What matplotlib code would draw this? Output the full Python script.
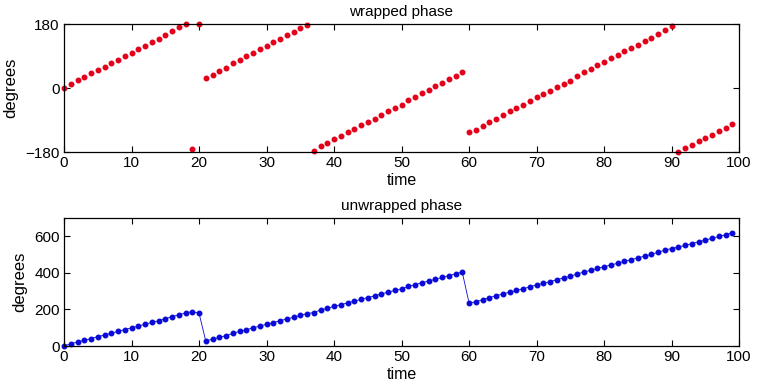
import numpy as np
import matplotlib.pyplot as plt

plt.rcParams['font.family'] = ['Liberation Sans', 'DejaVu Sans']

# time samples
t = np.arange(100)

# wrapped phase in degrees
wrapped = [0, 12, 22, 31, 41, 51, 60, 70, 80, 90,
           99, 109, 119, 129, 138, 150, 160, 171, 180, -172,
           180, 28, 37, 47, 57, 69, 80, 89, 99, 109,
           119, 128, 138, 148, 157, 168, 177, -177, -163, -154,
           -143, -134, -124, -115, -105, -95, -86, -75, -66, -56,
           -47, -34, -25, -14, -5, 5, 15, 25, 35, 44,
           -124, -119, -107, -95, -86, -75, -66, -56, -47, -37,
           -26, -17, -8, 3, 12, 21, 34, 44, 54, 64,
           73, 83, 92, 103, 112, 122, 131, 141, 153, 164,
           173, -179, -170, -160, -150, -141, -131, -121, -112, -101]

unwrapped = np.unwrap(np.array(wrapped, dtype=float), period=360)

fig = plt.figure(figsize=(7.57, 3.9), dpi=100)
W, H = 757, 390
ax1 = fig.add_axes([64 / W, 1 - 152 / H, (739 - 64) / W, (152 - 24) / H])
ax2 = fig.add_axes([64 / W, 1 - 346 / H, (739 - 64) / W, (346 - 218) / H])

ax1.plot(t, wrapped, '.', color='#e5001a', markersize=6.5, clip_on=False)
ax1.set_xlim(0, 100)
ax1.set_ylim(-180, 180)
ax1.set_yticks([-180, 0, 180])
ax1.set_title('wrapped phase', fontsize=11, pad=6)
ax1.set_xlabel('time', fontsize=11.5, labelpad=2)
ax1.set_ylabel('degrees', fontsize=12, labelpad=5)

ax2.plot(t, unwrapped, '.-', color='#0a0ad8', markersize=6.5, linewidth=0.6, clip_on=False)
ax2.set_xlim(0, 100)
ax2.set_ylim(0, 700)
ax2.set_yticks([0, 200, 400, 600])
ax2.set_title('unwrapped phase', fontsize=11, pad=6)
ax2.set_xlabel('time', fontsize=11.5, labelpad=2)
ax2.set_ylabel('degrees', fontsize=12, labelpad=5)

for ax in (ax1, ax2):
    ax.set_xticks(np.arange(0, 101, 10))
    ax.tick_params(direction='in', top=True, right=True, length=4, width=0.8,
                   labelsize=11, pad=3)
    for s in ax.spines.values():
        s.set_linewidth(0.9)

fig.savefig('out.png', dpi=100)
